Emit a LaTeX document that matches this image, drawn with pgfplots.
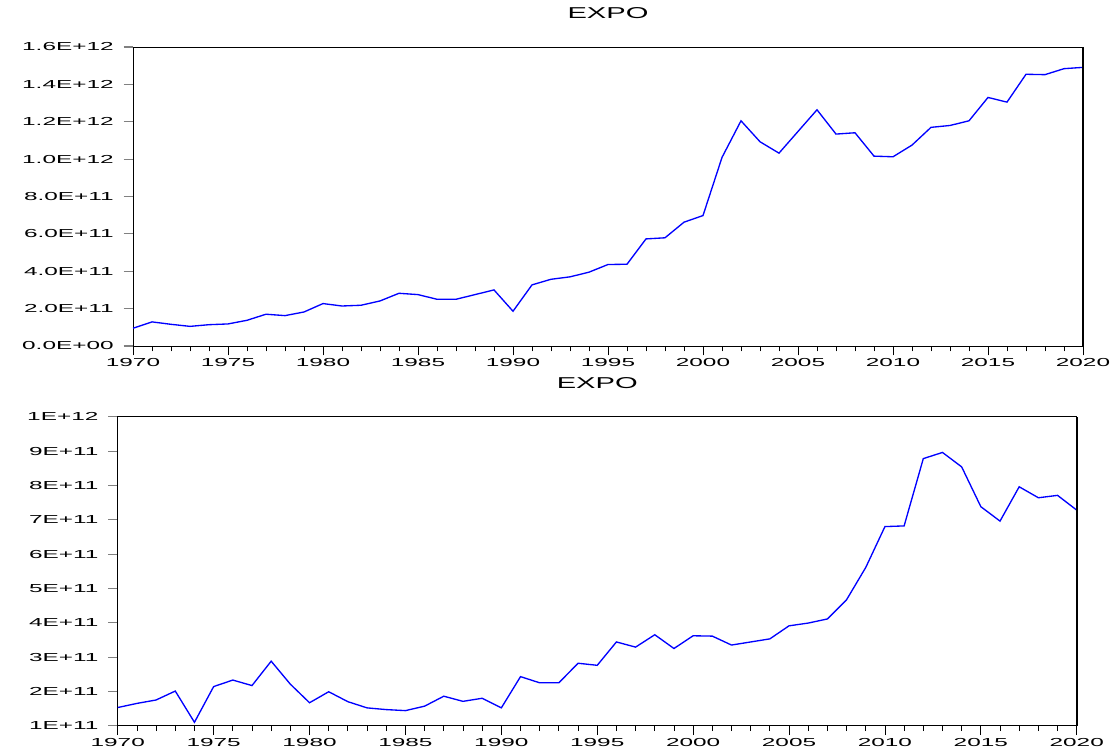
\documentclass[border=0pt]{standalone}
\usepackage{fontspec}
\setmainfont{Liberation Sans}
\newfontfamily\tickfont{Liberation Sans}[FakeStretch=2.1]
\newfontfamily\titlefont{Liberation Sans}[FakeStretch=1.85]
\usepackage{pgfplots}
\pgfplotsset{compat=1.18}
\pgfplotstableread{
year val
1970 0.95e11
1971 1.29e11
1972 1.16e11
1973 1.05e11
1974 1.14e11
1975 1.18e11
1976 1.375e11
1977 1.70e11
1978 1.625e11
1979 1.82e11
1980 2.27e11
1981 2.14e11
1982 2.18e11
1983 2.41e11
1984 2.82e11
1985 2.75e11
1986 2.5e11
1987 2.5e11
1988 2.75e11
1989 3.0e11
1990 1.86e11
1991 3.27e11
1992 3.57e11
1993 3.70e11
1994 3.95e11
1995 4.36e11
1996 4.375e11
1997 5.73e11
1998 5.79e11
1999 6.625e11
2000 6.98e11
2001 10.09e11
2002 12.05e11
2003 10.93e11
2004 10.32e11
2005 11.48e11
2006 12.64e11
2007 11.34e11
2008 11.41e11
2009 10.16e11
2010 10.125e11
2011 10.75e11
2012 11.70e11
2013 11.80e11
2014 12.05e11
2015 13.30e11
2016 13.05e11
2017 14.54e11
2018 14.52e11
2019 14.84e11
2020 14.91e11
}\toptable
\pgfplotstableread{
year val
1970 1.53e11
1971 1.65e11
1972 1.75e11
1973 2.01e11
1974 1.10e11
1975 2.14e11
1976 2.33e11
1977 2.17e11
1978 2.88e11
1979 2.21e11
1980 1.67e11
1981 1.99e11
1982 1.70e11
1983 1.52e11
1984 1.47e11
1985 1.44e11
1986 1.57e11
1987 1.86e11
1988 1.71e11
1989 1.80e11
1990 1.52e11
1991 2.43e11
1992 2.25e11
1993 2.25e11
1994 2.82e11
1995 2.76e11
1996 3.44e11
1997 3.29e11
1998 3.65e11
1999 3.25e11
2000 3.62e11
2001 3.61e11
2002 3.35e11
2003 3.44e11
2004 3.53e11
2005 3.91e11
2006 3.99e11
2007 4.11e11
2008 4.67e11
2009 5.61e11
2010 6.80e11
2011 6.82e11
2012 8.78e11
2013 8.96e11
2014 8.54e11
2015 7.38e11
2016 6.96e11
2017 7.96e11
2018 7.64e11
2019 7.71e11
2020 7.28e11
}\bottable
\pgfplotsset{
  evstyle/.style={
    scale only axis,
    anchor=south west,
    xmin=1970, xmax=2020,
    xtick={1970,1975,...,2020},
    xticklabels={1970,1975,1980,1985,1990,1995,2000,2005,2010,2015,2020},
    minor x tick num=4,
    tick align=outside,
    xtick pos=bottom, ytick pos=left,
    major tick length=7pt,
    minor tick length=4pt,
    x tick style={black, line width=0.6pt},
    minor x tick style={black, line width=0.6pt},
    y tick style={gray, line width=0.8pt},
    axis line style={black, line width=0.7pt},
    tick label style={font=\tickfont\fontsize{8.7}{10}\selectfont},
    yticklabel style={xshift=-4pt},
    xticklabel style={yshift=1pt},
    title style={font=\titlefont\fontsize{11.8}{13}\selectfont, at={(0.5,1)}, anchor=base, yshift=15pt},
    title={EXPO},
    scaled ticks=false,
    clip=false,
  }
}
\begin{document}
\begin{tikzpicture}
\path[use as bounding box] (0,0) rectangle (837.75pt,567pt);
\begin{axis}[evstyle,
  at={(99.75pt,307.5pt)}, width=712.5pt, height=224.25pt,
  ymin=0, ymax=1.6e12,
  ytick={0,2e11,4e11,6e11,8e11,1e12,1.2e12,1.4e12,1.6e12},
  yticklabels={0.0E+00,2.0E+11,4.0E+11,6.0E+11,8.0E+11,1.0E+12,1.2E+12,1.4E+12,1.6E+12},
]
\addplot[blue, line width=1pt] table[x=year, y=val] {\toptable};
\draw[black, line width=1.4pt] (rel axis cs:1,0) -- (rel axis cs:1,1);
\end{axis}
\begin{axis}[evstyle,
  at={(88.3pt,22.7pt)}, width=719.25pt, height=231.75pt,
  ymin=1e11, ymax=1e12,
  ytick={1e11,2e11,3e11,4e11,5e11,6e11,7e11,8e11,9e11,1e12},
  yticklabels={1E+11,2E+11,3E+11,4E+11,5E+11,6E+11,7E+11,8E+11,9E+11,1E+12},
]
\addplot[blue, line width=1pt] table[x=year, y=val] {\bottable};
\draw[black, line width=1.4pt] (rel axis cs:1,0) -- (rel axis cs:1,1);
\end{axis}
\end{tikzpicture}
\end{document}
